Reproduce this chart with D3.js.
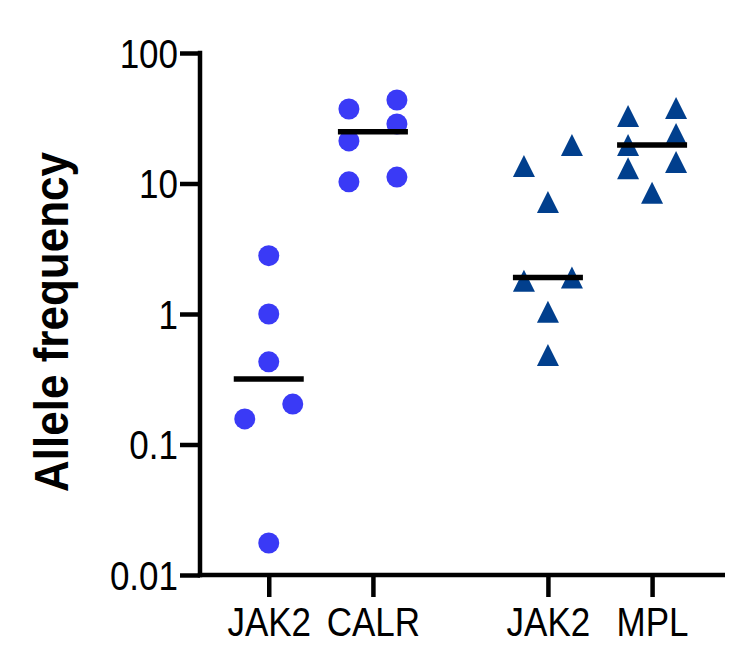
<!DOCTYPE html>
<head>
<meta charset="utf-8">
<title>Allele frequency</title>
<script src="https://cdn.jsdelivr.net/npm/d3@7"></script>
<style>
body { margin: 0; background: #fff; }
text { font-family: "Liberation Sans", Arial, sans-serif; }
</style>
</head>
<body>
<script>
// groups and values (allele frequency, %)
var categories = ["JAK2", "CALR", "JAK2", "MPL"];
var jak2Circle = [2.8, 1.0, 0.43, 0.204, 0.157, 0.0176];
var calr = [37.2, 21.2, 10.3, 43.6, 28.6, 11.2];
var jak2Tri = [13.6, 19.7, 7.2, 1.8, 1.9, 1.04, 0.485];
var mpl = [32.9, 19.7, 13.1, 37.9, 23.9, 14.6, 8.5];
var yTicks = [0.01, 0.1, 1, 10, 100];

var series = [
  {values: jak2Circle, shape: "circle", color: "#3a3af6"},
  {values: calr, shape: "circle", color: "#3a3af6"},
  {values: jak2Tri, shape: "triangle", color: "#013f8d"},
  {values: mpl, shape: "triangle", color: "#013f8d"}
];
// column positions (gap between the two pairs)
var groupPos = [0, 1, 2.68, 3.68];

var width = 747, height = 645;
var svg = d3.select("body").append("svg")
  .attr("width", width)
  .attr("height", height);

var x = d3.scaleLinear().domain([-0.66, 4.38]).range([200, 725]);
var y = d3.scaleLog().domain([0.01, 100]).range([575, 53]);

// the original font is taller for its width than Arial
var tall = 1.14;

// y axis
var yAxis = svg.append("g")
  .attr("transform", "translate(200,0)")
  .call(d3.axisLeft(y).tickValues(yTicks).tickSize(20).tickSizeOuter(0)
    .tickFormat(function(d) { return d >= 1 ? d3.format("d")(d) : String(d); }));
yAxis.select(".domain").attr("stroke-width", 4.5).attr("d", "M0,50.7V577.2");
yAxis.selectAll(".tick line").attr("stroke-width", 4.5);
yAxis.selectAll("text").attr("x", -22).attr("dy", "0.36em")
  .attr("transform", "scale(1," + tall + ")")
  .attr("font-size", 35).attr("fill", "#000");

// x axis
var xAxis = svg.append("g")
  .attr("transform", "translate(0,575)")
  .call(d3.axisBottom(x).tickValues(groupPos).tickSize(22).tickSizeOuter(0)
    .tickFormat(function(d, i) { return categories[i]; }));
xAxis.select(".domain").attr("stroke-width", 4.5).attr("d", "M197.8,0H725");
xAxis.selectAll(".tick line").attr("stroke-width", 4.5);
xAxis.selectAll("text").attr("y", 61 / tall).attr("dy", 0)
  .attr("transform", "scale(1," + tall + ")")
  .attr("font-size", 35).attr("fill", "#000");

// y title
svg.append("text")
  .attr("transform", "translate(68,322) rotate(-90) scale(1,1.1)")
  .attr("text-anchor", "middle")
  .attr("font-size", 44)
  .attr("font-weight", "bold")
  .text("Allele frequency");

// spread points that would overlap: clusters alternate left/right
var slotW = 24, sym = 23;
function spread(vals) {
  var pts = vals.map(function(v) { return {v: v, py: y(v)}; });
  var sorted = pts.slice().sort(function(a, b) { return b.py - a.py; });
  var clusters = [], cur = [];
  sorted.forEach(function(p) {
    if (cur.length && cur[cur.length - 1].py - p.py >= sym) { clusters.push(cur); cur = []; }
    cur.push(p);
  });
  if (cur.length) clusters.push(cur);
  clusters.forEach(function(c) {
    c.forEach(function(p, i) { p.dx = c.length == 1 ? 0 : (i % 2 == 0 ? -slotW : slotW); });
  });
  return pts;
}

var tri = "M0,-11L11,11L-11,11Z";

series.forEach(function(s, gi) {
  var cx = x(groupPos[gi]);
  var pts = spread(s.values);
  var g = svg.append("g");
  if (s.shape == "circle") {
    g.selectAll("circle").data(pts).enter().append("circle")
      .attr("cx", function(d) { return cx + d.dx; })
      .attr("cy", function(d) { return d.py; })
      .attr("r", 10.5)
      .attr("fill", s.color);
  } else {
    g.selectAll("path").data(pts).enter().append("path")
      .attr("d", tri)
      .attr("transform", function(d) { return "translate(" + (cx + d.dx) + "," + d.py + ")"; })
      .attr("fill", s.color);
  }
  // median line
  var m = d3.median(s.values);
  svg.append("line")
    .attr("x1", cx - 35).attr("x2", cx + 35)
    .attr("y1", y(m)).attr("y2", y(m))
    .attr("stroke", "#000")
    .attr("stroke-width", 5.5);
});
</script>
</body>
